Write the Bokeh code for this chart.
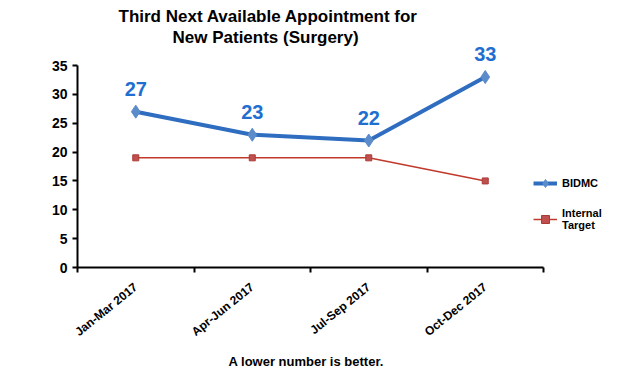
from bokeh.plotting import figure
from bokeh.models import (Range1d, FixedTicker, Legend, LegendItem, Title, ColumnDataSource)
from bokeh.core.properties import value
from bokeh.embed import file_html
from bokeh.resources import INLINE

categories = ["Jan-Mar 2017", "Apr-Jun 2017", "Jul-Sep 2017", "Oct-Dec 2017"]
bidmc = [27, 23, 22, 33]
target = [19, 19, 19, 15]
y_ticks = [0, 5, 10, 15, 20, 25, 30, 35]

xpos = [i + 0.5 for i in range(len(categories))]
n = len(categories)
FONT = "Liberation Sans"

# frame extends right (legend) and up (data labels); axis lines stop at the data extent
p = figure(width=620, height=374, output_backend="svg", toolbar_location=None,
           x_range=Range1d(0, n * 535 / 466), y_range=Range1d(0, 35 * 221 / 202),
           min_border_left=77, min_border_right=8, min_border_top=46, min_border_bottom=107)
p.title = None
p.add_layout(Title(text="New Patients (Surgery)", align="left", offset=95, text_font=FONT,
                   text_font_size="17px", text_font_style="bold", text_color="black",
                   standoff=0), "above")
p.add_layout(Title(text="Third Next Available Appointment for", align="left", offset=41,
                   text_font=FONT, text_font_size="17px", text_font_style="bold",
                   text_color="black", standoff=0), "above")
p.add_layout(Title(text="A lower number is better.", align="left", offset=151, text_font=FONT,
                   text_font_size="13px", text_font_style="bold", text_color="black",
                   standoff=8), "below")

p.grid.visible = False
p.outline_line_color = None

src = ColumnDataSource(dict(x=xpos, bidmc=bidmc, target=target,
                            lbl=[str(v) for v in bidmc]))

r1 = p.line("x", "bidmc", source=src, line_color="#2E6DC0", line_width=4)
m1 = p.scatter("x", "bidmc", source=src, marker="diamond", size=13, fill_color="#5B8BCB",
               line_color="#5B8BCB")
r2 = p.line("x", "target", source=src, line_color="#C0392B", line_width=1.5)
m2 = p.scatter("x", "target", source=src, marker="square", size=6, fill_color="#C0504D",
               line_color="#A93A36")
p.text("x", "bidmc", text="lbl", source=src, text_font=value(FONT), text_font_size="20px",
       text_font_style="bold", text_color="#1F6FD0", text_align="center",
       text_baseline="alphabetic", y_offset=-23)

# axes
p.yaxis.bounds = (0, 35)
p.yaxis.ticker = FixedTicker(ticks=y_ticks)
p.yaxis.axis_line_width = 2
p.yaxis.axis_line_color = "black"
p.yaxis.major_tick_line_width = 2
p.yaxis.major_tick_out = 5
p.yaxis.major_tick_in = 0
p.yaxis.minor_tick_line_color = None
p.yaxis.major_label_text_font = FONT
p.yaxis.major_label_text_font_size = "14px"
p.yaxis.major_label_text_font_style = "bold"
p.yaxis.major_label_text_color = "black"

p.xaxis.bounds = (0, n)
p.xaxis.ticker = FixedTicker(ticks=xpos, minor_ticks=list(range(n + 1)))
p.xaxis.major_label_overrides = {x: c for x, c in zip(xpos, categories)}
p.xaxis.major_tick_line_color = None
p.xaxis.major_tick_out = 8
p.xaxis.major_label_standoff = 10
p.xaxis.minor_tick_line_color = "black"
p.xaxis.minor_tick_line_width = 2
p.xaxis.minor_tick_out = 5
p.xaxis.minor_tick_in = 0
p.xaxis.axis_line_width = 2
p.xaxis.axis_line_color = "black"
p.xaxis.major_label_orientation = 0.68
p.xaxis.major_label_text_font = FONT
p.xaxis.major_label_text_font_size = "12px"
p.xaxis.major_label_text_font_style = "bold"
p.xaxis.major_label_text_color = "black"

legend = Legend(items=[LegendItem(label="BIDMC", renderers=[r1, m1]),
                       LegendItem(label="Internal\nTarget", renderers=[r2, m2])],
                location=(456, 36), label_text_font=FONT, label_text_font_size="11px",
                label_text_font_style="bold", label_text_color="black",
                background_fill_alpha=0,
                border_line_color=None, glyph_width=24, label_standoff=5, spacing=14,
                padding=0, margin=0)
p.add_layout(legend, "center")

open("out.html", "w").write(file_html(p, INLINE))
